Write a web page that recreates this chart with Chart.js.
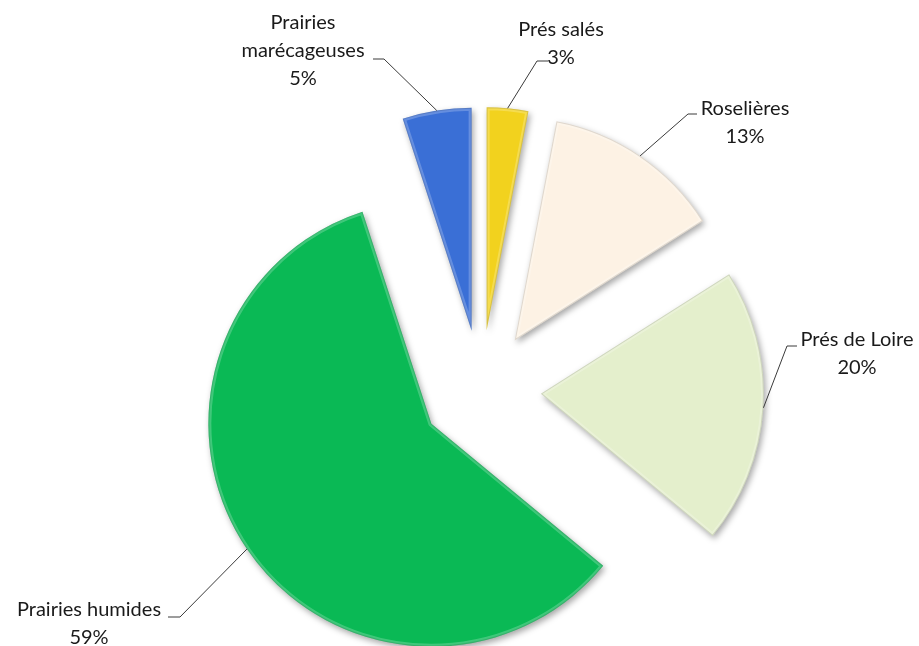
<!DOCTYPE html>
<html>
<head>
<meta charset="utf-8">
<script src="https://cdn.jsdelivr.net/npm/chart.js@4"></script>
<style>
  html, body { margin: 0; padding: 0; background: #fff; }
  #wrap { width: 919px; height: 646px; }
</style>
</head>
<body>
<div id="wrap"><canvas id="milieuxChart"></canvas></div>
<script>
// Données
const categories = ['Prés salés', 'Roselières', 'Prés de Loire', 'Prairies humides', 'Prairies marécageuses'];
const values = [3, 13, 20, 59, 5];
const colors = ['#f2d21e', '#fdf2e4', '#e4efcc', '#0ab955', '#3a6fd6'];

// Placement des étiquettes (texte, coude, fin du trait)
const labelLines = [
  ['Prés salés', '3%'],
  ['Roselières', '13%'],
  ['Prés de Loire', '20%'],
  ['Prairies humides', '59%'],
  ['Prairies', 'marécageuses', '5%']
];
const labelPos = [
  { x: 561, y: 30, elbow: [537, 61], stub: [548, 61] },
  { x: 745, y: 109, elbow: [688, 114], stub: [697, 114] },
  { x: 857, y: 340, elbow: [787, 346], stub: [797, 346] },
  { x: 89, y: 610, elbow: [180, 617], stub: [168, 617] },
  { x: 303, y: 23, elbow: [384, 59], stub: [373, 59] }
];
const explode = 60;

// Décale chaque part le long de sa bissectrice
const explodePlugin = {
  id: 'explode',
  afterDatasetUpdate(chart, args) {
    args.meta.data.forEach(arc => {
      const mid = (arc.startAngle + arc.endAngle) / 2;
      arc.x += Math.cos(mid) * explode;
      arc.y += Math.sin(mid) * explode;
    });
  },
  beforeDatasetDraw(chart) {
    const ctx = chart.ctx;
    ctx.save();
    ctx.shadowColor = 'rgba(0,0,0,0.35)';
    ctx.shadowBlur = 6;
    ctx.shadowOffsetX = 2;
    ctx.shadowOffsetY = 3;
  },
  afterDatasetDraw(chart, args) {
    const ctx = chart.ctx;
    ctx.restore();
    // léger relief sur le bord des parts
    args.meta.data.forEach(arc => {
      ctx.save();
      ctx.beginPath();
      ctx.moveTo(arc.x, arc.y);
      ctx.arc(arc.x, arc.y, arc.outerRadius, arc.startAngle, arc.endAngle);
      ctx.closePath();
      ctx.clip();
      ctx.lineJoin = 'round';
      ctx.strokeStyle = 'rgba(255,255,255,0.22)';
      ctx.lineWidth = 6;
      ctx.stroke();
      ctx.strokeStyle = 'rgba(0,0,0,0.12)';
      ctx.lineWidth = 2;
      ctx.stroke();
      ctx.restore();
    });
  }
};

const labelPlugin = {
  id: 'pieLabels',
  afterDraw(chart) {
    const ctx = chart.ctx;
    const arcs = chart.getDatasetMeta(0).data;
    ctx.save();
    arcs.forEach((arc, i) => {
      const mid = (arc.startAngle + arc.endAngle) / 2;
      const ax = arc.x + Math.cos(mid) * arc.outerRadius;
      const ay = arc.y + Math.sin(mid) * arc.outerRadius;
      const p = labelPos[i];
      ctx.strokeStyle = '#3a3a3a';
      ctx.lineWidth = 1;
      ctx.beginPath();
      ctx.moveTo(ax, ay);
      ctx.lineTo(p.elbow[0], p.elbow[1]);
      ctx.lineTo(p.stub[0], p.stub[1]);
      ctx.stroke();

      ctx.fillStyle = '#1a1a1a';
      ctx.font = '20px Lato, "Open Sans", sans-serif';
      ctx.textAlign = 'center';
      ctx.textBaseline = 'middle';
      labelLines[i].forEach((t, k) => {
        ctx.fillText(t, p.x, p.y + k * 28);
      });
    });
    ctx.restore();
  }
};

new Chart(document.getElementById('milieuxChart').getContext('2d'), {
  type: 'pie',
  data: {
    labels: categories,
    datasets: [{
      data: values,
      backgroundColor: colors,
      borderWidth: 0
    }]
  },
  options: {
    responsive: true,
    maintainAspectRatio: false,
    animation: false,
    radius: 223,
    layout: { padding: { left: 43, top: 134, right: 0, bottom: 0 } },
    plugins: {
      legend: { display: false },
      tooltip: { enabled: false }
    }
  },
  plugins: [explodePlugin, labelPlugin]
});
</script>
</body>
</html>
